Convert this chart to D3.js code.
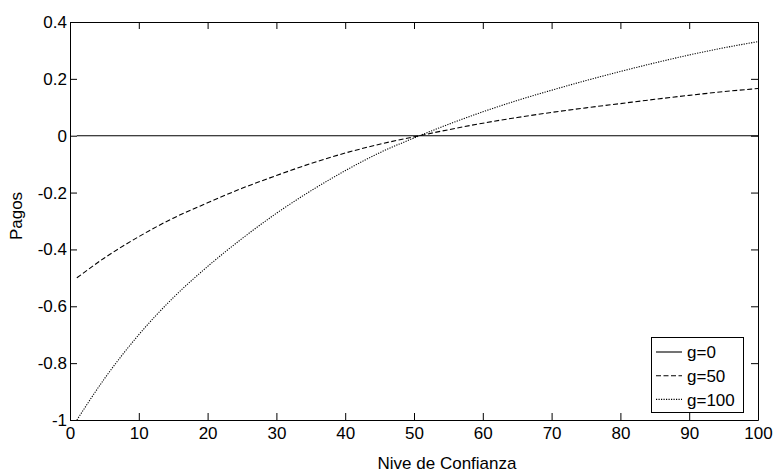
<!DOCTYPE html>
<html>
<head>
<meta charset="utf-8">
<script src="https://cdn.jsdelivr.net/npm/d3@7"></script>
<style>
  body { margin: 0; background: #fff; }
  text { font-family: Arial, "Liberation Sans", sans-serif; fill: #000; }
</style>
</head>
<body>
<div id="chart"></div>
<script>
var svgWidth = 777;
var svgHeight = 474;

var margin = { top: 22, right: 19, bottom: 54, left: 70 };
var width = svgWidth - margin.left - margin.right;
var height = svgHeight - margin.top - margin.bottom;

// data
var nivel = [1, 5, 10, 15, 20, 25, 30, 35, 40, 45, 50, 55, 60, 65, 70, 75, 80, 85, 90, 95, 100];
var g0 = [0, 0, 0, 0, 0, 0, 0, 0, 0, 0, 0, 0, 0, 0, 0, 0, 0, 0, 0, 0, 0];
var g50 = [-0.5, -0.43, -0.355, -0.29, -0.236, -0.185, -0.14, -0.098, -0.061, -0.03, -0.004, 0.021, 0.044, 0.064, 0.082, 0.098, 0.113, 0.128, 0.142, 0.155, 0.166];
var g100 = [-1, -0.855, -0.7, -0.57, -0.46, -0.362, -0.273, -0.194, -0.123, -0.06, -0.008, 0.04, 0.084, 0.124, 0.16, 0.194, 0.226, 0.256, 0.284, 0.309, 0.331];
var seriesNames = ["g=0", "g=50", "g=100"];
var xTicks = [0, 10, 20, 30, 40, 50, 60, 70, 80, 90, 100];
var yTicks = [-1, -0.8, -0.6, -0.4, -0.2, 0, 0.2, 0.4];

var dashes = [null, "5,2.5", "1.2,1.3"];
var series = [g0, g50, g100];

var svg = d3.select("#chart")
  .append("svg")
  .attr("width", svgWidth)
  .attr("height", svgHeight);

var chartGroup = svg.append("g")
  .attr("transform", `translate(${margin.left}, ${margin.top})`);

var x = d3.scaleLinear().domain([0, 100]).range([0, width]);
var y = d3.scaleLinear().domain([-1, 0.4]).range([height, 0]);

// plain hyphen for negatives, like the original
var fmt = d => String(+d.toFixed(1));

// axes, ticks pointing inward like matlab
chartGroup.append("g")
  .attr("class", "axis")
  .attr("transform", `translate(0, ${height})`)
  .call(d3.axisBottom(x).tickValues(xTicks).tickFormat(fmt).tickSizeInner(-7).tickSizeOuter(0).tickPadding(7));

chartGroup.append("g")
  .attr("class", "axis")
  .call(d3.axisLeft(y).tickValues(yTicks).tickFormat(fmt).tickSizeInner(-7).tickSizeOuter(0).tickPadding(3));

chartGroup.append("g")
  .attr("class", "axis")
  .call(d3.axisTop(x).tickValues(xTicks).tickFormat("").tickSizeInner(-7).tickSizeOuter(0));

chartGroup.append("g")
  .attr("class", "axis")
  .attr("transform", `translate(${width}, 0)`)
  .call(d3.axisRight(y).tickValues(yTicks).tickFormat("").tickSizeInner(-7).tickSizeOuter(0));

chartGroup.selectAll(".axis text").style("font-size", "17px").attr("fill", "#000");
chartGroup.selectAll(".axis line").attr("stroke", "#000");
chartGroup.selectAll(".axis path").attr("stroke", "#000");

// lines
var line = d3.line()
  .x((d, i) => x(nivel[i]))
  .y(d => y(d))
  .curve(d3.curveMonotoneX);

series.forEach(function(s, k) {
  chartGroup.append("path")
    .datum(s)
    .attr("d", line)
    .attr("fill", "none")
    .attr("stroke", "#000")
    .attr("stroke-width", 1.1)
    .attr("stroke-dasharray", dashes[k]);
});

// legend
var legend = chartGroup.append("g")
  .attr("transform", `translate(${581}, ${315})`);

legend.append("rect")
  .attr("x", 0.5).attr("y", 0.5)
  .attr("width", 92).attr("height", 75)
  .attr("fill", "#fff")
  .attr("stroke", "#000");

seriesNames.forEach(function(name, k) {
  var ly = 15 + k * 23.7;
  legend.append("line")
    .attr("x1", 5).attr("x2", 31)
    .attr("y1", ly).attr("y2", ly)
    .attr("stroke", "#000")
    .attr("stroke-width", 1.1)
    .attr("stroke-dasharray", dashes[k]);
  legend.append("text")
    .attr("x", 36)
    .attr("y", ly)
    .attr("dy", "0.36em")
    .style("font-size", "17px")
    .text(name);
});

// labels
svg.append("text")
  .attr("transform", "rotate(-90)")
  .attr("x", -216)
  .attr("y", 22)
  .attr("text-anchor", "middle")
  .style("font-size", "17px")
  .text("Pagos");

svg.append("text")
  .attr("x", 447)
  .attr("y", 469)
  .attr("text-anchor", "middle")
  .style("font-size", "17px")
  .text("Nive de Confianza");
</script>
</body>
</html>
